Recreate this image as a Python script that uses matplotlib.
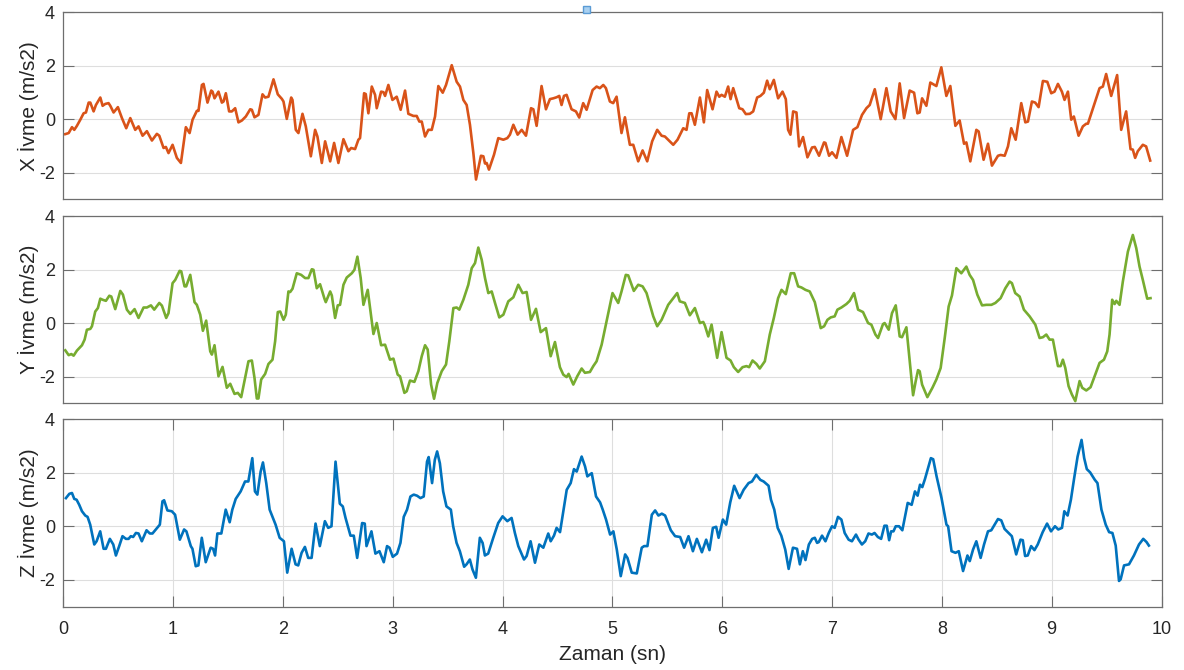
import matplotlib
matplotlib.use("Agg")
import matplotlib.pyplot as plt
from matplotlib.patches import Rectangle

plt.rcParams['font.family'] = ['Liberation Sans', 'DejaVu Sans']
plt.rcParams['axes.unicode_minus'] = False

# ---- data (time in s, acceleration in m/s2) ----
x_t = [0.018,0.049,0.079,0.100,0.124,0.155,0.185,0.206,0.231,0.246,0.276,0.297,0.337,0.358,0.382,0.412,0.428,0.458,0.497,0.534,
       0.573,0.610,0.655,0.685,0.722,0.761,0.807,0.852,0.874,0.913,0.934,0.958,0.995,1.034,1.071,1.116,1.150,1.177,1.216,1.231,
       1.262,1.277,1.313,1.347,1.359,1.377,1.413,1.444,1.459,1.480,1.510,1.535,1.565,1.595,1.626,1.662,1.702,1.717,1.741,1.777,
       1.814,1.838,1.868,1.914,1.953,1.990,2.005,2.035,2.075,2.087,2.117,2.141,2.178,2.208,2.254,2.293,2.314,2.354,2.384,2.430,
       2.466,2.505,2.551,2.596,2.621,2.657,2.687,2.702,2.739,2.754,2.778,2.809,2.839,2.854,2.894,2.915,2.930,2.960,2.997,3.036,
       3.072,3.112,3.142,3.188,3.218,3.242,3.264,3.294,3.324,3.355,3.385,3.415,3.455,3.485,3.537,3.582,3.612,3.643,3.673,3.703,
       3.734,3.758,3.803,3.825,3.840,3.855,3.876,3.922,3.961,4.007,4.043,4.067,4.098,4.137,4.174,4.213,4.259,4.280,4.310,4.355,
       4.395,4.431,4.462,4.492,4.516,4.537,4.559,4.583,4.628,4.668,4.698,4.734,4.765,4.820,4.856,4.886,4.917,4.941,4.977,5.007,
       5.038,5.083,5.114,5.159,5.190,5.235,5.275,5.317,5.362,5.408,5.448,5.478,5.554,5.593,5.645,5.675,5.700,5.721,5.751,5.797,
       5.833,5.863,5.912,5.948,5.973,5.994,6.024,6.054,6.076,6.100,6.155,6.185,6.215,6.251,6.282,6.318,6.348,6.379,6.409,6.433,
       6.470,6.509,6.549,6.579,6.600,6.621,6.646,6.676,6.700,6.736,6.776,6.818,6.843,6.882,6.927,6.940,6.973,7.000,7.040,7.085,
       7.137,7.192,7.231,7.273,7.313,7.343,7.389,7.443,7.495,7.534,7.577,7.616,7.656,7.707,7.747,7.777,7.798,7.820,7.859,7.895,
       7.950,7.995,8.041,8.077,8.123,8.162,8.202,8.223,8.259,8.314,8.335,8.380,8.420,8.456,8.511,8.535,8.572,8.602,8.632,8.672,
       8.723,8.760,8.784,8.820,8.850,8.881,8.920,8.960,8.996,9.026,9.057,9.093,9.117,9.148,9.178,9.202,9.245,9.284,9.315,9.330,
       9.436,9.466,9.496,9.542,9.596,9.633,9.678,9.718,9.739,9.760,9.784,9.830,9.860,9.897]
x_v = [-0.56,-0.52,-0.30,-0.40,-0.25,-0.02,0.22,0.25,0.62,0.62,0.29,0.53,0.81,0.50,0.57,0.60,0.50,0.25,0.45,0.04,
       -0.34,0.04,-0.40,-0.27,-0.62,-0.45,-0.80,-0.55,-0.62,-1.08,-1.04,-1.27,-0.96,-1.45,-1.64,-0.30,-0.52,-0.02,0.31,0.31,
       1.28,1.32,0.62,1.07,1.03,0.78,1.03,0.62,0.66,0.97,0.29,0.29,0.41,-0.12,-0.05,0.10,0.37,0.35,0.07,0.16,
       0.93,0.81,0.84,1.49,0.93,0.76,0.66,0.01,0.81,0.72,-0.40,-0.52,0.20,-0.27,-1.39,-0.40,-0.65,-1.64,-0.83,-1.58,
       -0.89,-1.64,-0.75,-1.20,-1.08,-1.12,-0.77,-0.71,0.97,0.94,0.22,1.22,0.91,0.41,1.03,1.01,0.87,1.28,0.72,0.84,
       0.35,1.07,0.20,0.12,0.12,-0.09,-0.09,-0.65,-0.40,-0.40,0.10,1.24,0.99,1.28,2.02,1.40,1.22,0.72,0.53,-0.21,
       -1.27,-2.26,-1.37,-1.39,-1.66,-1.64,-1.89,-1.33,-0.71,-0.77,-0.71,-0.58,-0.21,-0.58,-0.40,-0.62,0.41,0.37,-0.25,1.24,
       0.37,0.75,0.78,0.82,0.87,0.53,0.87,0.91,0.37,0.29,0.06,0.60,0.35,1.09,1.22,1.16,1.28,1.16,0.66,0.60,
       0.84,-0.52,0.07,-0.96,-0.96,-1.58,-1.17,-1.58,-0.83,-0.40,-0.62,-0.65,-0.96,-0.77,-0.34,-0.40,0.22,0.22,-0.21,0.81,
       -0.12,1.09,0.37,1.03,0.84,0.91,0.84,1.22,0.75,1.16,0.41,0.37,0.19,0.20,0.29,0.81,0.87,0.99,1.44,1.12,
       1.47,0.78,1.03,0.75,-0.40,-0.58,0.29,0.25,-1.02,-0.67,-1.43,-1.06,-1.04,-1.37,-0.87,-0.89,-1.37,-1.24,-1.45,-0.67,
       -1.37,-0.40,-0.30,0.16,0.41,0.53,1.12,0.00,1.16,0.29,0.00,1.34,0.04,1.07,0.99,0.22,0.25,0.78,0.50,1.37,
       1.24,1.94,0.87,1.24,-0.25,-0.05,-0.92,-0.87,-1.58,-0.40,-0.46,-1.52,-0.92,-1.74,-1.37,-1.34,-1.37,-1.02,-0.34,-0.77,
       0.60,-0.12,-0.09,0.66,0.62,0.45,1.43,1.40,0.97,1.03,1.32,1.03,0.72,1.03,-0.02,0.10,-0.62,-0.27,-0.17,-0.17,
       1.16,1.22,1.69,0.87,1.65,-0.40,0.29,-1.12,-1.14,-1.45,-1.20,-0.96,-1.02,-1.55]

y_t = [0.018,0.049,0.073,0.094,0.124,0.170,0.194,0.215,0.246,0.261,0.291,0.315,0.337,0.358,0.388,0.419,0.437,0.473,0.519,0.543,
       0.579,0.610,0.649,0.685,0.731,0.761,0.798,0.828,0.874,0.898,0.937,0.958,0.995,1.019,1.059,1.074,1.104,1.119,1.156,1.195,
       1.216,1.247,1.271,1.301,1.338,1.353,1.377,1.413,1.450,1.489,1.520,1.559,1.589,1.620,1.656,1.686,1.717,1.741,1.762,1.777,
       1.802,1.838,1.868,1.905,1.929,1.953,1.975,2.005,2.026,2.050,2.066,2.087,2.126,2.166,2.202,2.232,2.263,2.278,2.308,2.338,
       2.378,2.390,2.430,2.445,2.475,2.499,2.520,2.551,2.581,2.627,2.651,2.678,2.708,2.733,2.772,2.809,2.824,2.854,2.894,2.930,
       2.975,3.006,3.045,3.066,3.106,3.127,3.157,3.197,3.233,3.264,3.294,3.318,3.349,3.376,3.406,3.446,3.485,3.515,3.552,3.582,
       3.606,3.643,3.688,3.719,3.749,3.779,3.810,3.840,3.870,3.901,3.931,3.970,4.007,4.052,4.098,4.143,4.182,4.219,4.259,4.304,
       4.347,4.395,4.438,4.477,4.522,4.553,4.583,4.601,4.644,4.680,4.720,4.750,4.795,4.826,4.856,4.902,4.947,5.001,5.053,5.083,
       5.122,5.144,5.195,5.235,5.275,5.311,5.372,5.408,5.448,5.508,5.554,5.590,5.614,5.660,5.705,5.751,5.797,5.827,5.842,5.873,
       5.903,5.954,5.994,6.039,6.076,6.106,6.145,6.185,6.221,6.245,6.276,6.312,6.342,6.388,6.433,6.470,6.509,6.540,6.579,6.624,
       6.655,6.691,6.721,6.758,6.797,6.843,6.897,6.928,6.958,6.988,7.024,7.049,7.085,7.131,7.161,7.200,7.237,7.282,7.328,7.358,
       7.395,7.419,7.464,7.479,7.516,7.546,7.580,7.616,7.637,7.677,7.707,7.738,7.762,7.783,7.798,7.820,7.868,7.914,7.950,7.989,
       8.026,8.062,8.092,8.132,8.177,8.223,8.253,8.284,8.323,8.366,8.405,8.451,8.487,8.535,8.578,8.617,8.638,8.668,8.708,8.747,
       8.799,8.851,8.890,8.920,8.951,8.981,9.011,9.057,9.081,9.102,9.124,9.154,9.184,9.215,9.254,9.278,9.315,9.354,9.391,9.436,
       9.476,9.506,9.527,9.551,9.573,9.588,9.618,9.648,9.694,9.739,9.770,9.800,9.830,9.870,9.900]
y_v = [-1.02,-1.20,-1.16,-1.22,-1.03,-0.83,-0.62,-0.25,-0.22,-0.12,0.43,0.56,0.91,0.87,0.83,1.02,0.99,0.52,1.20,1.06,
       0.50,0.34,0.52,0.19,0.58,0.58,0.66,0.50,0.75,0.65,0.19,0.37,1.49,1.61,1.95,1.93,1.37,1.37,1.80,0.78,
       0.68,0.31,-0.29,0.09,-1.06,-1.18,-0.83,-1.99,-1.64,-2.42,-2.27,-2.65,-2.61,-2.77,-2.05,-1.43,-1.40,-2.05,-2.82,-2.82,
       -2.11,-1.90,-1.53,-1.37,-0.68,0.41,0.43,0.12,0.31,1.18,1.16,1.28,1.86,1.80,1.68,1.68,2.01,1.99,1.30,1.45,
       0.91,0.78,1.18,1.03,0.19,0.66,0.68,1.43,1.70,1.86,1.99,2.48,1.68,0.68,1.24,0.06,-0.41,0.00,-0.83,-0.81,
       -1.37,-1.33,-1.93,-1.99,-2.61,-2.55,-2.15,-2.20,-1.80,-1.24,-0.83,-0.99,-2.30,-2.83,-2.24,-1.80,-1.55,-0.68,0.56,0.58,
       0.50,0.87,1.43,2.05,2.24,2.82,2.36,1.68,1.12,1.18,0.75,0.21,0.31,0.81,0.96,1.43,1.12,1.16,0.12,0.53,
       -0.34,-0.19,-1.24,-0.71,-1.65,-1.93,-2.02,-1.90,-2.30,-1.99,-1.70,-1.86,-1.83,-1.61,-1.43,-0.81,0.06,1.12,0.75,1.18,
       1.80,1.78,1.20,1.43,1.37,1.12,0.25,-0.12,0.12,0.68,0.93,1.12,0.81,0.75,0.29,0.56,0.00,0.04,-0.09,-0.50,
       -0.06,-1.30,-0.34,-1.30,-1.40,-1.65,-1.83,-1.65,-1.61,-1.65,-1.40,-1.53,-1.70,-1.43,-0.43,0.19,0.93,1.24,1.08,1.86,
       1.86,1.37,1.33,1.24,1.18,0.78,-0.19,-0.12,0.12,0.21,0.25,0.50,0.58,0.71,0.83,1.12,0.50,0.41,0.00,-0.06,
       -0.43,-0.56,-0.04,0.00,-0.25,0.37,0.66,-0.50,-0.53,-0.16,-1.43,-2.70,-2.17,-1.76,-1.80,-2.30,-2.77,-2.42,-2.11,-1.68,
       -0.56,0.62,1.03,2.05,1.86,2.11,1.80,1.61,1.06,0.66,0.68,0.68,0.75,0.93,1.30,1.55,1.49,1.12,0.99,0.50,
       0.25,-0.06,-0.56,-0.53,-0.43,-0.62,-0.62,-1.61,-1.61,-1.37,-1.68,-2.36,-2.67,-2.92,-2.17,-2.42,-2.52,-2.40,-1.99,-1.49,
       -1.37,-1.06,-0.43,0.87,0.71,0.83,0.68,1.55,2.67,3.29,2.80,2.11,1.61,0.91,0.93]

z_t = [0.024,0.055,0.079,0.100,0.121,0.145,0.170,0.200,0.221,0.245,0.282,0.303,0.336,0.367,0.388,0.424,0.455,0.479,0.509,0.539,
       0.570,0.594,0.615,0.636,0.661,0.685,0.715,0.758,0.788,0.812,0.842,0.879,0.903,0.918,0.948,0.988,1.018,1.061,1.100,1.121,
       1.161,1.176,1.206,1.230,1.261,1.297,1.342,1.364,1.382,1.403,1.439,1.479,1.515,1.539,1.570,1.615,1.655,1.685,1.721,1.745,
       1.767,1.797,1.818,1.848,1.879,1.903,1.933,1.970,2.009,2.039,2.079,2.115,2.139,2.170,2.200,2.230,2.261,2.297,2.336,2.382,
       2.412,2.442,2.479,2.518,2.545,2.570,2.615,2.645,2.676,2.721,2.745,2.761,2.806,2.842,2.879,2.918,2.948,2.970,3.000,3.039,
       3.070,3.100,3.130,3.161,3.191,3.221,3.252,3.282,3.312,3.327,3.358,3.383,3.404,3.429,3.459,3.489,3.529,3.550,3.581,3.611,
       3.650,3.672,3.702,3.726,3.757,3.793,3.818,3.839,3.869,3.915,3.960,4.000,4.043,4.082,4.112,4.143,4.195,4.219,4.255,4.295,
       4.334,4.371,4.416,4.438,4.468,4.492,4.523,4.553,4.584,4.620,4.650,4.675,4.720,4.751,4.772,4.812,4.851,4.888,4.912,4.942,
       4.979,5.009,5.040,5.076,5.116,5.137,5.176,5.222,5.267,5.289,5.319,5.359,5.389,5.419,5.450,5.480,5.532,5.571,5.617,5.653,
       5.693,5.733,5.769,5.815,5.854,5.884,5.915,5.945,5.967,6.006,6.036,6.073,6.109,6.158,6.195,6.240,6.271,6.310,6.347,6.377,
       6.422,6.444,6.474,6.505,6.538,6.574,6.605,6.644,6.681,6.707,6.734,6.758,6.789,6.819,6.843,6.864,6.879,6.909,6.940,6.970,
       7.000,7.024,7.054,7.085,7.115,7.151,7.181,7.218,7.242,7.272,7.302,7.332,7.363,7.387,7.417,7.447,7.477,7.498,7.520,7.538,
       7.559,7.580,7.610,7.640,7.689,7.725,7.755,7.779,7.801,7.822,7.846,7.900,7.921,7.952,7.997,8.042,8.057,8.088,8.124,8.154,
       8.193,8.233,8.254,8.284,8.314,8.353,8.384,8.420,8.450,8.480,8.511,8.541,8.571,8.607,8.637,8.677,8.716,8.737,8.758,8.782,
       8.813,8.843,8.873,8.918,8.958,8.994,9.030,9.060,9.094,9.115,9.145,9.175,9.205,9.236,9.272,9.296,9.320,9.350,9.393,9.417,
       9.453,9.492,9.523,9.553,9.583,9.613,9.628,9.659,9.704,9.749,9.795,9.834,9.864,9.885]
z_v = [1.05,1.21,1.24,1.02,0.99,0.80,0.56,0.40,0.35,0.06,-0.68,-0.56,-0.19,-0.84,-0.84,-0.47,-0.68,-1.09,-0.74,-0.37,
       -0.47,-0.47,-0.37,-0.40,-0.25,-0.27,-0.56,-0.15,-0.27,-0.27,-0.12,0.06,0.93,0.97,0.59,0.56,0.43,-0.50,-0.12,-0.19,
       -0.74,-0.84,-1.49,-1.46,-0.43,-1.34,-0.80,-0.84,-1.09,-0.27,-0.27,0.62,0.15,0.62,1.02,1.30,1.67,1.67,2.54,1.30,
       1.18,2.04,2.38,1.61,0.62,0.37,0.06,-0.43,-0.56,-1.73,-0.84,-1.42,-1.46,-0.99,-0.77,-1.18,-1.18,0.10,-0.74,0.19,
       -0.06,0.00,2.41,0.84,0.74,0.31,-0.35,-0.35,-1.18,0.12,0.10,-0.74,-0.19,-1.02,-0.93,-1.34,-0.74,-0.80,-1.14,-1.02,
       -0.62,0.35,0.62,1.11,1.18,1.14,1.05,1.11,2.41,2.58,1.61,2.48,2.79,2.35,1.30,0.74,0.62,0.00,-0.62,-0.93,
       -1.51,-1.42,-1.24,-1.61,-1.92,-0.43,-0.62,-1.09,-1.02,-0.43,0.12,0.37,0.19,0.31,-0.25,-0.74,-1.24,-1.11,-0.56,-1.36,
       -0.68,-0.80,-0.27,-0.56,-0.35,-0.06,-0.22,0.56,1.36,1.61,2.13,2.04,2.60,2.23,1.86,1.98,1.11,0.89,0.62,0.25,
       -0.31,-0.19,-0.87,-1.86,-1.05,-1.18,-1.73,-1.76,-0.80,-0.74,-0.74,0.43,0.59,0.40,0.47,0.40,-0.15,-0.37,-0.40,-0.80,
       -0.37,-0.93,-0.47,-0.97,-0.50,-0.89,-0.06,-0.02,-0.43,0.25,0.06,0.89,1.51,1.05,1.36,1.61,1.67,1.92,1.73,1.67,
       1.51,0.99,0.62,-0.06,-0.35,-0.87,-1.59,-0.80,-0.84,-1.42,-0.93,-1.26,-0.68,-0.47,-0.43,-0.62,-0.59,-0.35,-0.56,-0.25,
       0.00,-0.06,0.35,0.25,-0.25,-0.50,-0.56,-0.31,-0.50,-0.68,-0.56,-0.27,-0.31,-0.25,-0.40,-0.47,0.02,0.02,-0.52,-0.19,
       -0.19,0.00,0.00,-0.15,0.87,0.80,1.30,1.14,1.55,1.46,1.76,2.54,2.50,1.86,1.05,0.06,0.00,-0.93,-0.99,-0.93,
       -1.67,-1.09,-1.30,-0.87,-0.56,-1.18,-0.68,-0.19,-0.15,0.06,0.27,0.22,-0.10,-0.25,-0.37,-1.05,-0.50,-0.52,-1.11,-1.09,
       -0.74,-0.89,-0.68,-0.22,0.10,-0.19,0.00,-0.12,-0.06,0.56,0.40,0.99,1.80,2.60,3.22,2.54,2.13,2.01,1.73,1.61,
       0.62,0.06,-0.22,-0.25,-0.72,-2.04,-1.98,-1.46,-1.42,-1.09,-0.68,-0.47,-0.59,-0.72]

y_ticks = [-2, 0, 2, 4]
x_ticks = list(range(0, 11))
y_labels = ['X İvme (m/s2)', 'Y İvme (m/s2)', 'Z İvme (m/s2)']
x_label = 'Zaman (sn)'
colors = ['#D95319', '#77AC30', '#0072BD']

# ---- layout ----
W, H = 1184, 670
fig = plt.figure(figsize=(W / 100, H / 100), dpi=100)
left = 63.3 / W
width = (1161.5 - 63.3) / W
rows = [(12.3, 199.3), (216.0, 403.3), (419.0, 606.7)]
series = [(x_t, x_v), (y_t, y_v), (z_t, z_v)]
text_c = '#262626'
spine_c = '#6e6e6e'

axes = []
for i, ((top, bot), (tt, vv)) in enumerate(zip(rows, series)):
    ax = fig.add_axes([left, 1 - bot / H, width, (bot - top) / H])
    ax.plot(tt, vv, color=colors[i], lw=1.9, solid_joinstyle='round')
    ax.set_xlim(0, 10)
    ax.set_ylim(-3, 4)
    ax.set_yticks(y_ticks)
    ax.grid(True, axis='y', color='#dedede', lw=0.8)
    ax.set_axisbelow(True)
    for s in ax.spines.values():
        s.set_color(spine_c)
        s.set_linewidth(0.9)
    ax.tick_params(axis='y', direction='in', length=8, width=0.8, color=spine_c,
                   labelsize=13, labelcolor=text_c, right=True, pad=6)
    ax.set_ylabel(y_labels[i], fontsize=15, color=text_c, labelpad=0)
    if i < 2:
        ax.set_xticks([])
    else:
        ax.set_xticks(x_ticks)
        ax.grid(True, axis='x', color='#dedede', lw=0.8)
        ax.tick_params(axis='x', direction='in', length=8, width=0.8, color=spine_c,
                       labelsize=13, labelcolor=text_c, top=True, pad=10.5)
        ax.set_xlabel(x_label, fontsize=15, color=text_c, labelpad=5)
    axes.append(ax)

fig.align_ylabels(axes)

# small marker square above the top axes
fig.patches.append(Rectangle((583.0 / W, 1 - 12.7 / H), 6.6 / W, 7.0 / H,
                             transform=fig.transFigure, fc='#a9d0f0', ec='#5a9bd5', lw=1.0))

fig.savefig('out.png', dpi=100)
